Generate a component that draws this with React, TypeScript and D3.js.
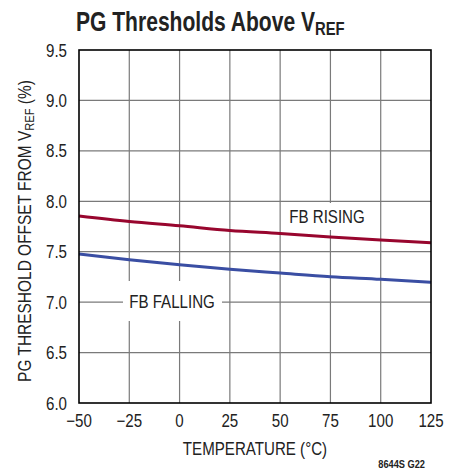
import * as d3 from "d3";
import type { ReactNode } from "react";

const temps = [-50, -25, 0, 25, 50, 75, 100, 125];
const fbRising = [7.855, 7.8, 7.757, 7.71, 7.68, 7.645, 7.615, 7.59];
const fbFalling = [7.477, 7.42, 7.371, 7.325, 7.288, 7.252, 7.226, 7.196];
const xTicks = [-50, -25, 0, 25, 50, 75, 100, 125];
const yTicks = [6.0, 6.5, 7.0, 7.5, 8.0, 8.5, 9.0, 9.5];

const FONT = "'Liberation Sans', Arial, sans-serif";
const SX = 0.84; // condensed look

const W = 461;
const H = 473;
const M = { left: 79, right: 431, top: 50, bottom: 403 };

// text squeezed horizontally to mimic a condensed face
function NText(props: {
  x: number;
  y: number;
  size: number;
  anchor?: "start" | "middle" | "end";
  rotate?: number;
  sx?: number;
  bold?: boolean;
  children: ReactNode;
}) {
  const { x, y, size, anchor = "start", rotate = 0, sx = SX, bold, children } = props;
  return (
    <text
      transform={`translate(${x},${y}) rotate(${rotate}) scale(${sx},1)`}
      fontSize={size}
      textAnchor={anchor}
      fontWeight={bold ? "bold" : "normal"}
      fill="#222"
    >
      {children}
    </text>
  );
}

export default function App() {
  const x = d3.scaleLinear().domain([-50, 125]).range([M.left, M.right]);
  const y = d3.scaleLinear().domain([6, 9.5]).range([M.bottom, M.top]);

  const line = d3
    .line<number>()
    .x((_, i) => x(temps[i]))
    .y((d) => y(d))
    .curve(d3.curveMonotoneX);

  const fmtX = (v: number) => (v < 0 ? "\u2212" + Math.abs(v) : String(v));

  return (
    <svg
      width={W}
      height={H}
      style={{ position: "absolute", left: 0, top: 0, background: "#fff" }}
      fontFamily={FONT}
    >
      {/* title */}
      <NText x={76} y={31} size={27} bold sx={0.78}>
        PG Thresholds Above V
        <tspan fontSize={19} dy={4}>REF</tspan>
      </NText>

      {/* grid */}
      {xTicks.slice(1, -1).map((t) => (
        <line key={"gx" + t} x1={x(t)} x2={x(t)} y1={M.top} y2={M.bottom} stroke="#7a7a7a" strokeWidth={1.2} />
      ))}
      {yTicks.slice(1, -1).map((t) => (
        <line key={"gy" + t} x1={M.left} x2={M.right} y1={y(t)} y2={y(t)} stroke="#7a7a7a" strokeWidth={1.2} />
      ))}

      {/* label boxes */}
      <rect x={283} y={203} width={89} height={27} fill="#fff" />
      <rect x={123} y={281} width={99} height={40} fill="#fff" />
      <NText x={327} y={223} size={18} anchor="middle">FB RISING</NText>
      <NText x={172} y={308} size={18} anchor="middle">FB FALLING</NText>

      {/* curves */}
      <path d={line(fbRising) ?? ""} fill="none" stroke="#98062e" strokeWidth={3} />
      <path d={line(fbFalling) ?? ""} fill="none" stroke="#3a4ea3" strokeWidth={3} />

      {/* frame */}
      <rect x={M.left} y={M.top} width={M.right - M.left} height={M.bottom - M.top} fill="none" stroke="#000" strokeWidth={1.6} />

      {/* y ticks */}
      {yTicks.map((t) => (
        <NText key={"ty" + t} x={67} y={y(t) + 6.5} size={18} anchor="end">
          {t.toFixed(1)}
        </NText>
      ))}
      {/* x ticks */}
      {xTicks.map((t) => (
        <NText key={"tx" + t} x={x(t)} y={427} size={18} anchor="middle">
          {fmtX(t)}
        </NText>
      ))}

      <NText x={255} y={455} size={18} anchor="middle">TEMPERATURE (°C)</NText>

      <NText x={31} y={231} size={18} anchor="middle" rotate={-90} sx={0.86}>
        PG THRESHOLD OFFSET FROM V<tspan fontSize={13} dy={3}>REF</tspan>
        <tspan dy={-3}> (%)</tspan>
      </NText>

      <NText x={425} y={468} size={11} anchor="end" bold>8644S G22</NText>
    </svg>
  );
}
